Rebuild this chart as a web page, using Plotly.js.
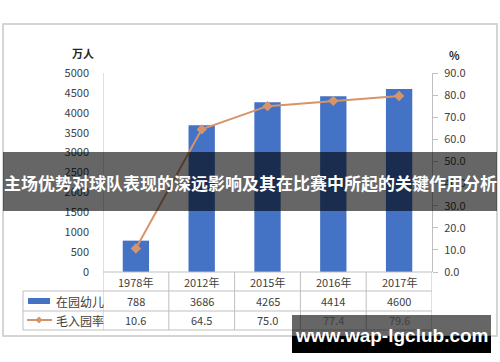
<!DOCTYPE html>
<html><head><meta charset="utf-8">
<script src="https://cdn.plot.ly/plotly-3.0.1.min.js"></script>
<style>html,body{margin:0;padding:0;background:#fff}#c{width:500px;height:362px}</style>
</head><body><div id="c"></div>
<script>
const categories = ["1978年","2012年","2015年","2016年","2017年"];
const enrolled = [788, 3686, 4265, 4414, 4600];
const grossRate = [10.6, 64.5, 75.0, 77.4, 79.6];
const seriesNames = ["在园幼儿","毛入园率"];
const leftTicks = [0,500,1000,1500,2000,2500,3000,3500,4000,4500,5000];
const rightTicks = [0,10,20,30,40,50,60,70,80,90];
const titleText = "主场优势对球队表现的深远影响及其在比赛中所起的关键作用分析";
const watermark = "www.wap-lgclub.com";

const W=500,H=362,L=103,R=432,T=73,B=272;
const px=x=>(x-L)/(R-L), py=y=>(B-y)/(B-T);
const font="Noto Sans CJK SC, DejaVu Sans, sans-serif";
const gridC="#bfbfbf";
const barC="#4472C4", lineC="#D7946A";

const shapes=[], ann=[];
function A(o){ann.push(Object.assign({xanchor:'center',yanchor:'middle',showarrow:false},o));}
// outer border
shapes.push({type:'rect',xref:'paper',yref:'paper',x0:px(3),x1:px(497),y0:py(24),y1:py(336),line:{color:'#c8c8c8',width:1.5}});
// table horizontal lines
[291,311,330].forEach(y=>shapes.push({type:'line',xref:'paper',yref:'paper',x0:px(23),x1:px(R),y0:py(y),y1:py(y),line:{color:gridC,width:1}}));
shapes.push({type:'line',xref:'paper',yref:'paper',x0:px(L),x1:px(R),y0:py(B),y1:py(B),line:{color:gridC,width:1}});
// vertical lines
shapes.push({type:'line',xref:'paper',yref:'paper',x0:px(23),x1:px(23),y0:py(291),y1:py(330),line:{color:gridC,width:1}});
for(let i=0;i<=categories.length;i++){
  shapes.push({type:'line',xref:'x',yref:'paper',x0:i-0.5,x1:i-0.5,y0:py(i===0?T:B),y1:py(330),line:{color:gridC,width:1}});
}
// legend symbols in table
shapes.push({type:'rect',xref:'paper',yref:'paper',x0:px(28),x1:px(50),y0:py(298),y1:py(304),fillcolor:barC,line:{width:0}});
shapes.push({type:'line',xref:'paper',yref:'paper',x0:px(27),x1:px(52),y0:py(320),y1:py(320),line:{color:lineC,width:2}});
shapes.push({type:'path',xref:'paper',yref:'paper',path:`M${px(39)},${py(316.5)} L${px(42.5)},${py(320)} L${px(39)},${py(323.5)} L${px(35.5)},${py(320)} Z`,fillcolor:lineC,line:{width:0}});
A({xref:'paper',yref:'paper',x:px(54),y:py(301),xanchor:'left',text:seriesNames[0],font:{family:font,size:12,color:'#404040'}});
A({xref:'paper',yref:'paper',x:px(54),y:py(320),xanchor:'left',text:seriesNames[1],font:{family:font,size:12,color:'#404040'}});
categories.forEach((c,i)=>{
  A({xref:'x',yref:'paper',x:i,y:py(282),text:c,font:{family:font,size:11,color:'#404040'}});
  A({xref:'x',yref:'paper',x:i,y:py(301),text:String(enrolled[i]),font:{family:font,size:11,color:'#404040'}});
  A({xref:'x',yref:'paper',x:i,y:py(320),text:grossRate[i].toFixed(1),font:{family:font,size:11,color:'#404040'}});
});
// axis titles
A({xref:'paper',yref:'paper',x:px(83),y:py(53),text:'<b>万人</b>',font:{family:font,size:11,color:'#262626'}});
A({xref:'paper',yref:'paper',x:px(454),y:py(55),text:'<b>%</b>',font:{family:font,size:11,color:'#262626'}});
// banner overlay
shapes.push({type:'rect',xref:'paper',yref:'paper',x0:px(3),x1:px(497),y0:py(152),y1:py(211),fillcolor:'rgba(0,0,0,0.6)',line:{width:0},layer:'above'});
A({xref:'paper',yref:'paper',x:px(250),y:py(182),text:'<b>'+titleText+'</b>',font:{family:font,size:17,color:'#ffffff'}});
// watermark
shapes.push({type:'rect',xref:'paper',yref:'paper',x0:px(292),x1:px(491),y0:py(315),y1:py(336),fillcolor:'rgba(0,0,0,0.6)',line:{width:0},layer:'above'});
shapes.push({type:'rect',xref:'paper',yref:'paper',x0:px(292),x1:px(491),y0:py(336),y1:py(353),fillcolor:'#000',line:{width:0},layer:'above'});
A({xref:'paper',yref:'paper',x:px(391),y:py(335),text:'<b>'+watermark+'</b>',font:{family:'Liberation Sans, Arial, sans-serif',size:19,color:'#ffffff'}});

const data=[
 {type:'bar',x:categories,y:enrolled,name:seriesNames[0],marker:{color:barC},width:0.4,hoverinfo:'none'},
 {type:'scatter',mode:'lines+markers',x:categories,y:grossRate,name:seriesNames[1],yaxis:'y2',line:{color:lineC,width:2},marker:{symbol:'diamond',size:8,color:lineC},hoverinfo:'none'}
];
const layout={
 width:W,height:H,showlegend:false,paper_bgcolor:'#fff',plot_bgcolor:'#fff',
 margin:{l:L,r:W-R,t:T,b:H-B,pad:0},
 font:{family:font,size:11,color:'#404040'},
 xaxis:{type:'category',range:[-0.5,4.5],showticklabels:false,ticks:'',showgrid:false,zeroline:false,showline:false,fixedrange:true},
 yaxis:{range:[0,5000],tickvals:leftTicks,ticktext:leftTicks.map(String),showgrid:false,zeroline:false,showline:false,ticks:'',ticklabelstandoff:13,tickfont:{family:font,size:11,color:'#404040'}},
 yaxis2:{overlaying:'y',side:'right',range:[0,90],tickvals:rightTicks,ticktext:rightTicks.map(v=>v.toFixed(1)),showgrid:false,zeroline:false,showline:true,linecolor:gridC,ticks:'outside',ticklen:5,tickcolor:gridC,ticklabelstandoff:4,tickfont:{family:font,size:11,color:'#404040'}},
 shapes:shapes,annotations:ann
};
Plotly.newPlot('c',data,layout,{staticPlot:true,displayModeBar:false});
</script></body></html>
